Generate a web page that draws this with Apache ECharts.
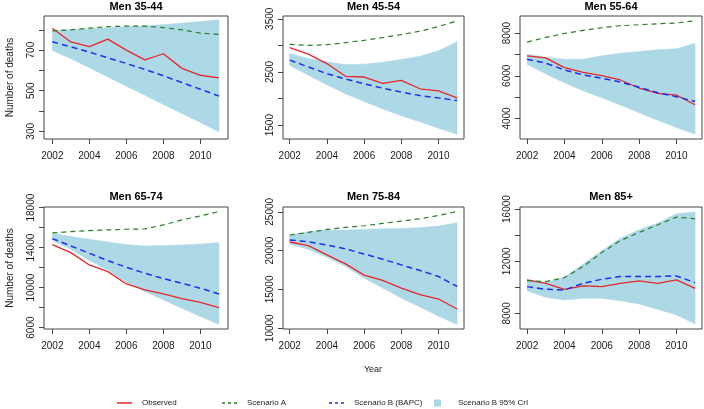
<!DOCTYPE html>
<html>
<head>
<meta charset="utf-8">
<script src="https://cdn.jsdelivr.net/npm/echarts@6/dist/echarts.min.js"></script>
<style>
html,body{margin:0;padding:0;background:#fff;}
#chart{width:704px;height:409px;}
</style>
</head>
<body>
<div id="chart"></div>
<script>
// ---------- DATA ----------
const years = [2002, 2003, 2004, 2005, 2006, 2007, 2008, 2009, 2010, 2011];
const xTickValues = [2002, 2004, 2006, 2008, 2010];

const panelTitles = ['Men 35-44', 'Men 45-54', 'Men 55-64', 'Men 65-74', 'Men 75-84', 'Men 85+'];

// Men 35-44
const observed_35_44  = [808, 740, 717, 754, 700, 652, 682, 610, 576, 563];
const scenarioA_35_44 = [795, 800, 808, 816, 818, 818, 811, 800, 784, 777];
const scenarioB_35_44 = [741, 716, 690, 662, 634, 605, 573, 540, 507, 474];
const criLower_35_44  = [698, 657, 613, 567, 522, 478, 432, 388, 343, 297];
const criUpper_35_44  = [797, 801, 805, 810, 815, 820, 826, 833, 841, 849];
const yTicks_35_44  = [300, 400, 500, 600, 700, 800];
const yLabels_35_44 = [300, 500, 700];

// Men 45-54
const observed_45_54  = [2956, 2835, 2658, 2418, 2405, 2285, 2342, 2184, 2146, 2013];
const scenarioA_45_54 = [3019, 3000, 3013, 3051, 3095, 3146, 3203, 3266, 3354, 3462];
const scenarioB_45_54 = [2722, 2595, 2468, 2367, 2278, 2196, 2120, 2057, 2013, 1962];
const criLower_45_54  = [2627, 2437, 2260, 2089, 1943, 1804, 1677, 1563, 1443, 1329];
const criUpper_45_54  = [2848, 2753, 2690, 2639, 2646, 2684, 2734, 2797, 2899, 3070];
const yTicks_45_54  = [1500, 2000, 2500, 3000, 3500];
const yLabels_45_54 = [1500, 2500, 3500];

// Men 55-64
const observed_55_64  = [6933, 6839, 6384, 6165, 6008, 5804, 5427, 5176, 5098, 4643];
const scenarioA_55_64 = [7576, 7796, 7984, 8125, 8251, 8345, 8392, 8439, 8471, 8580];
const scenarioB_55_64 = [6776, 6588, 6275, 6039, 5882, 5710, 5459, 5208, 5020, 4800];
const criLower_55_64  = [6541, 6086, 5678, 5302, 4973, 4627, 4267, 3922, 3576, 3263];
const criUpper_55_64  = [7012, 6871, 6776, 6776, 6933, 7059, 7137, 7216, 7263, 7529];
const yTicks_55_64  = [4000, 5000, 6000, 7000, 8000];
const yLabels_55_64 = [4000, 6000, 8000];

// Men 65-74
const observed_65_74  = [14300, 13500, 12267, 11600, 10367, 9767, 9367, 8900, 8533, 8000];
const scenarioA_65_74 = [15467, 15600, 15700, 15767, 15833, 15867, 16267, 16767, 17167, 17600];
const scenarioB_65_74 = [14900, 14167, 13433, 12700, 12033, 11433, 10900, 10433, 9933, 9367];
const criLower_65_74  = [14700, 13833, 12700, 11767, 10500, 9600, 8767, 7933, 7100, 6300];
const criUpper_65_74  = [15433, 15100, 14833, 14567, 14300, 14167, 14200, 14267, 14367, 14500];
const yTicks_65_74  = [6000, 8000, 10000, 12000, 14000, 16000, 18000];
const yLabels_65_74 = [6000, 10000, 14000, 18000];

// Men 75-84
const observed_75_84  = [21111, 20641, 19444, 18291, 16838, 16154, 15171, 14316, 13761, 12479];
const scenarioA_75_84 = [22009, 22350, 22735, 22991, 23205, 23504, 23803, 24103, 24530, 25043];
const scenarioB_75_84 = [21368, 21154, 20726, 20214, 19573, 18889, 18162, 17436, 16667, 15385];
const criLower_75_84  = [20855, 20171, 19145, 17949, 16453, 15171, 13889, 12735, 11538, 10470];
const criUpper_75_84  = [22009, 22436, 22650, 22650, 22735, 22821, 22863, 22949, 23162, 23590];
const yTicks_75_84  = [10000, 15000, 20000, 25000];
const yLabels_75_84 = [10000, 15000, 20000, 25000];

// Men 85+
const observed_85  = [10564, 10308, 9846, 10103, 10051, 10308, 10487, 10308, 10564, 9923];
const scenarioA_85 = [10513, 10436, 10744, 11590, 12667, 13590, 14205, 14795, 15385, 15256];
const scenarioB_85 = [10051, 9846, 9795, 10308, 10615, 10821, 10821, 10821, 10872, 10359];
const criLower_85  = [9744, 9231, 9026, 9154, 9154, 8974, 8718, 8308, 7872, 7179];
const criUpper_85  = [10564, 10385, 10769, 11795, 12795, 13769, 14410, 14923, 15641, 15795];
const yTicks_85  = [8000, 10000, 12000, 14000, 16000];
const yLabels_85 = [8000, 12000, 16000];

// ---------- LAYOUT ----------
const panels = [
  {obs: observed_35_44, a: scenarioA_35_44, b: scenarioB_35_44, lo: criLower_35_44, hi: criUpper_35_44, yt: yTicks_35_44, yl: yLabels_35_44,
   left: 44, width: 184, top: 16, height: 123, xmin: 2001.55, xmax: 2011.49, ymin: 262, ymax: 868},
  {obs: observed_45_54, a: scenarioA_45_54, b: scenarioB_45_54, lo: criLower_45_54, hi: criUpper_45_54, yt: yTicks_45_54, yl: yLabels_45_54,
   left: 283, width: 181, top: 16, height: 123, xmin: 2001.64, xmax: 2011.37, ymin: 1240, ymax: 3552},
  {obs: observed_55_64, a: scenarioA_55_64, b: scenarioB_55_64, lo: criLower_55_64, hi: criUpper_55_64, yt: yTicks_55_64, yl: yLabels_55_64,
   left: 520, width: 182, top: 16, height: 123, xmin: 2001.62, xmax: 2011.37, ymin: 3040, ymax: 8800},
  {obs: observed_65_74, a: scenarioA_65_74, b: scenarioB_65_74, lo: criLower_65_74, hi: criUpper_65_74, yt: yTicks_65_74, yl: yLabels_65_74,
   left: 44, width: 184, top: 207, height: 122, xmin: 2001.55, xmax: 2011.49, ymin: 5860, ymax: 18060},
  {obs: observed_75_84, a: scenarioA_75_84, b: scenarioB_75_84, lo: criLower_75_84, hi: criUpper_75_84, yt: yTicks_75_84, yl: yLabels_75_84,
   left: 283, width: 181, top: 207, height: 122, xmin: 2001.64, xmax: 2011.37, ymin: 9900, ymax: 25620},
  {obs: observed_85, a: scenarioA_85, b: scenarioB_85, lo: criLower_85, hi: criUpper_85, yt: yTicks_85, yl: yLabels_85,
   left: 520, width: 182, top: 207, height: 122, xmin: 2001.62, xmax: 2011.37, ymin: 6800, ymax: 16160}
];

const FONT = 'Liberation Sans, Arial, Helvetica, sans-serif';
const TXT = '#1a1a1a';
const RED = '#e8262a', GREEN = '#2a7d2a', BLUE = '#1b2ff0', BAND = '#add8e6';

const grid = [], xAxis = [], yAxis = [], series = [], title = [];
const pairs = arr => years.map((y, k) => [y, arr[k]]);

panels.forEach((p, i) => {
  grid.push({left: p.left, top: p.top, width: p.width, height: p.height, show: true,
    borderColor: '#444', borderWidth: 1, backgroundColor: 'transparent', containLabel: false});
  xAxis.push({type: 'value', gridIndex: i, min: p.xmin, max: p.xmax,
    splitLine: {show: false}, axisLine: {show: false},
    axisTick: {show: true, inside: false, length: 5, lineStyle: {color: '#444'}, customValues: xTickValues},
    axisLabel: {show: true, margin: 12, fontSize: 10, fontFamily: FONT, color: TXT,
      customValues: xTickValues, formatter: v => String(v)}});
  yAxis.push({type: 'value', gridIndex: i, min: p.ymin, max: p.ymax,
    splitLine: {show: false}, axisLine: {show: false},
    axisTick: {show: true, inside: false, length: 5, lineStyle: {color: '#444'}, customValues: p.yt},
    axisLabel: {show: true, margin: 8, fontSize: 10, fontFamily: FONT, color: TXT, rotate: 90,
      customValues: p.yl, formatter: v => String(v)},
    name: (i % 3 === 0) ? 'Number of deaths' : '',
    nameLocation: 'middle', nameRotate: 90, nameGap: 29,
    nameTextStyle: {fontSize: 10, fontFamily: FONT, color: TXT}});
  title.push({text: panelTitles[i], left: p.left + p.width / 2, top: (i < 3 ? 1 : 191), textAlign: 'center', padding: 0,
    textStyle: {fontSize: 11, fontWeight: 'bold', fontFamily: FONT, color: '#000'}});

  // credible-interval band as one polygon, placed through the axes
  const bandRows = years.map((y, k) => [y, p.lo[k], p.hi[k]]);
  series.push({type: 'custom', name: 'Scenario B 95% CrI', xAxisIndex: i, yAxisIndex: i,
    data: bandRows, silent: true, z: 1, animation: false, itemStyle: {color: BAND},
    renderItem: (params, api) => {
      if (params.dataIndex !== 0) return null;
      const upper = bandRows.map(r => api.coord([r[0], r[2]]));
      const lower = bandRows.map(r => api.coord([r[0], r[1]])).reverse();
      return {type: 'polygon', shape: {points: upper.concat(lower)}, style: {fill: BAND, stroke: BAND, lineWidth: 0.5}};
    }});
  series.push({type: 'line', name: 'Observed', xAxisIndex: i, yAxisIndex: i, data: pairs(p.obs),
    symbol: 'none', lineStyle: {color: RED, width: 1.3}, itemStyle: {color: RED}, z: 3, animation: false});
  series.push({type: 'line', name: 'Scenario A', xAxisIndex: i, yAxisIndex: i, data: pairs(p.a),
    symbol: 'none', lineStyle: {color: GREEN, width: 1.2, type: [5, 4]}, itemStyle: {color: GREEN}, z: 4, animation: false});
  series.push({type: 'line', name: 'Scenario B (BAPC)', xAxisIndex: i, yAxisIndex: i, data: pairs(p.b),
    symbol: 'none', lineStyle: {color: BLUE, width: 1.5, type: [6, 4]}, itemStyle: {color: BLUE}, z: 5, animation: false});
});

title.push({text: 'Year', left: 373, top: 365, textAlign: 'center', padding: 0,
  textStyle: {fontSize: 9, fontWeight: 'normal', fontFamily: FONT, color: TXT}});

const SOLID = 'path://M0,0h30v3h-30z';
const DASHED = 'path://M0,0h6v3h-6z M12,0h6v3h-6z M24,0h6v3h-6z';
const legendText = {fontSize: 8, fontFamily: FONT, color: TXT, padding: [0, 0, 0, 5]};
const LT = 394;
const legend = [
  {left: 112, top: LT, itemWidth: 15, itemHeight: 1.5, selectedMode: false, textStyle: legendText,
   data: [{name: 'Observed', icon: SOLID, itemStyle: {color: RED}}]},
  {left: 217, top: LT, itemWidth: 15, itemHeight: 1.5, selectedMode: false, textStyle: legendText,
   data: [{name: 'Scenario A', icon: DASHED, itemStyle: {color: GREEN}}]},
  {left: 324, top: LT, itemWidth: 15, itemHeight: 1.5, selectedMode: false, textStyle: legendText,
   data: [{name: 'Scenario B (BAPC)', icon: DASHED, itemStyle: {color: BLUE}}]},
  {left: 429, top: LT, itemWidth: 7, itemHeight: 7, selectedMode: false,
   textStyle: Object.assign({}, legendText, {padding: [0, 0, 0, 12]}),
   data: [{name: 'Scenario B 95% CrI', icon: 'rect', itemStyle: {color: BAND}}]}
];

const chart = echarts.init(document.getElementById('chart'), null, {renderer: 'canvas'});
chart.setOption({
  backgroundColor: '#ffffff',
  animation: false,
  title, grid, xAxis, yAxis, series, legend
});
</script>
</body>
</html>
